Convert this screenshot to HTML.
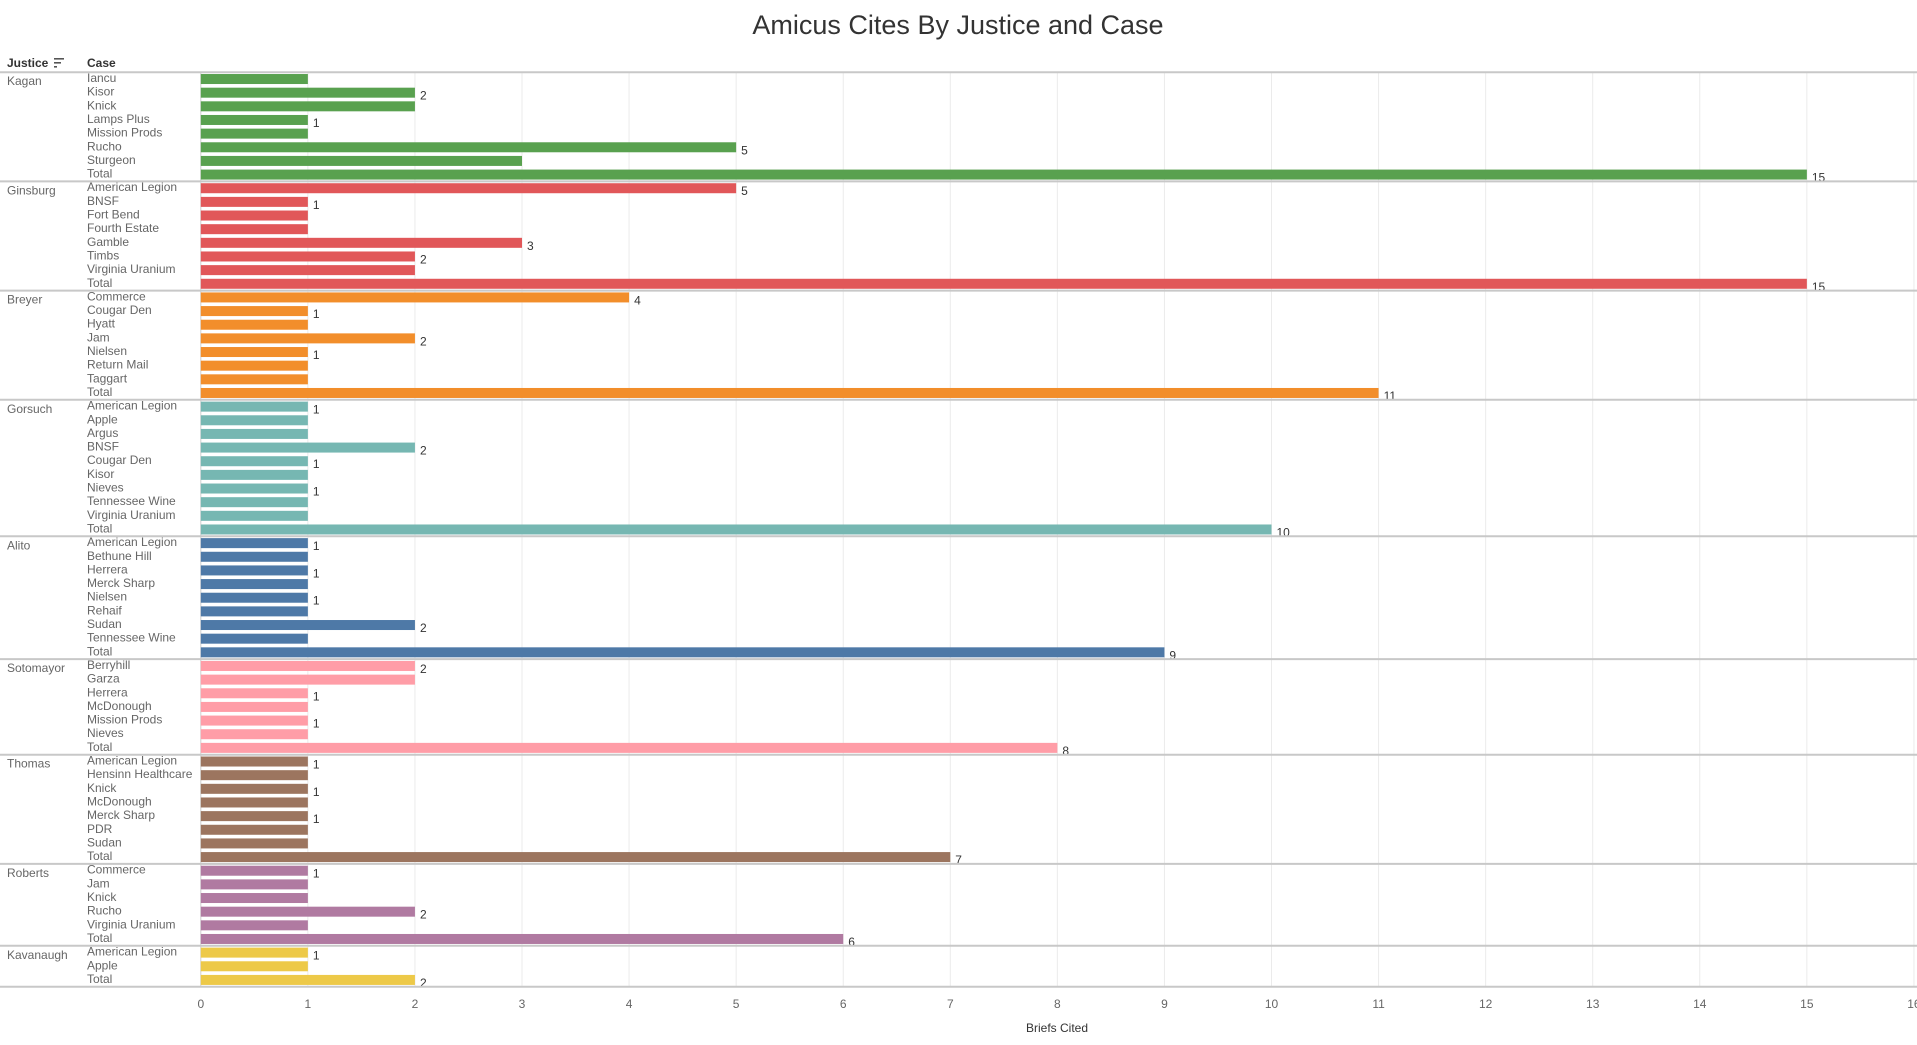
<!DOCTYPE html>
<html><head><meta charset="utf-8"><style>
html,body{margin:0;padding:0;background:#fff;width:1917px;height:1045px;overflow:hidden}
svg{font-family:"Liberation Sans",sans-serif}
</style></head><body>
<svg id="chart" width="1917" height="1045">
<text x="958" y="34" text-anchor="middle" font-size="27" fill="#333">Amicus Cites By Justice and Case</text>
<text x="7" y="67" font-size="12" font-weight="bold" fill="#333">Justice</text>
<g><rect x="54" y="58" width="10" height="1.6" fill="#555"/><rect x="54" y="62" width="7" height="1.6" fill="#555"/><rect x="54" y="66" width="3" height="1.6" fill="#555"/></g>
<text x="87" y="67" font-size="12" font-weight="bold" fill="#333">Case</text>
</svg>
<script>
const justices=["Kagan","Ginsburg","Breyer","Gorsuch","Alito","Sotomayor","Thomas","Roberts","Kavanaugh"];
const colors=["#59a14f","#e15759","#f28e2b","#76b7b2","#4e79a7","#ff9da7","#9c755f","#b07aa1","#edc948"];
const cases=[
["Iancu","Kisor","Knick","Lamps Plus","Mission Prods","Rucho","Sturgeon","Total"],
["American Legion","BNSF","Fort Bend","Fourth Estate","Gamble","Timbs","Virginia Uranium","Total"],
["Commerce","Cougar Den","Hyatt","Jam","Nielsen","Return Mail","Taggart","Total"],
["American Legion","Apple","Argus","BNSF","Cougar Den","Kisor","Nieves","Tennessee Wine","Virginia Uranium","Total"],
["American Legion","Bethune Hill","Herrera","Merck Sharp","Nielsen","Rehaif","Sudan","Tennessee Wine","Total"],
["Berryhill","Garza","Herrera","McDonough","Mission Prods","Nieves","Total"],
["American Legion","Hensinn Healthcare","Knick","McDonough","Merck Sharp","PDR","Sudan","Total"],
["Commerce","Jam","Knick","Rucho","Virginia Uranium","Total"],
["American Legion","Apple","Total"]];
const values=[
[1,2,2,1,1,5,3,15],
[5,1,1,1,3,2,2,15],
[4,1,1,2,1,1,1,11],
[1,1,1,2,1,1,1,1,1,10],
[1,1,1,1,1,1,2,1,9],
[2,2,1,1,1,1,8],
[1,1,1,1,1,1,1,7],
[1,1,1,2,1,6],
[1,1,2]];
const showLabel=[
[0,1,0,1,0,1,0,1],
[1,1,0,0,1,1,0,1],
[1,1,0,1,1,0,0,1],
[1,0,0,1,1,0,1,0,0,1],
[1,0,1,0,1,0,1,0,1],
[1,0,1,0,1,0,1],
[1,0,1,0,1,0,0,1],
[1,0,0,1,0,1],
[1,0,1]];
const ticks=[0,1,2,3,4,5,6,7,8,9,10,11,12,13,14,15,16];

const svg=document.getElementById('chart');
const NS="http://www.w3.org/2000/svg";
const x0=200.8, unit=107.07, yTop=72.2, rowH=13.65, barH=10;
const xs=v=>x0+v*unit;
function mk(tag,attrs,parent){const e=document.createElementNS(NS,tag);for(const k in attrs)e.setAttribute(k,attrs[k]);(parent||svg).appendChild(e);return e;}
const totalRows=values.reduce((a,g)=>a+g.length,0);
const yBottom=yTop+totalRows*rowH;
ticks.forEach(t=>{
 const g=mk('line',{x1:xs(t),x2:xs(t),y1:yTop,y2:yBottom,stroke:'#ebebeb','stroke-width':1});
 
 
 const tl=mk('text',{x:xs(t),y:1008,'font-size':12,fill:'#666','text-anchor':'middle'});
 tl.textContent=t;
 
 
});
mk('line',{x1:x0,x2:x0,y1:yTop,y2:yBottom,stroke:'#d4d4d4','stroke-width':1});
let r=0;
mk('line',{x1:0,x2:1917,y1:yTop,y2:yTop,stroke:'#c8c8c8','stroke-width':2});
justices.forEach((j,gi)=>{
 const gy=yTop+r*rowH;
 const jt=mk('text',{x:7,y:gy+13,'font-size':12,fill:'#666'});
 jt.textContent=j;
 
 
 values[gi].forEach((v,i)=>{
  const cy=yTop+(r+0.5)*rowH;
  const ct=mk('text',{x:87,y:cy+3,'font-size':12,fill:'#666'});
  ct.textContent=cases[gi][i];
  
  
  const b=mk('rect',{x:x0,y:cy-barH/2,width:xs(v)-x0,height:barH,fill:colors[gi]});
  
  
  if(showLabel[gi][i]){
   const lt=mk('text',{x:xs(v)+5,y:cy+7,'font-size':12,fill:'#333'});
   lt.textContent=v;
   
   
  }
  r++;
 });
 const sy=yTop+r*rowH;
 const s=mk('line',{x1:0,x2:1917,y1:sy,y2:sy,stroke:'#c8c8c8','stroke-width':2});
 
 
});
const at=mk('text',{x:1057,y:1032,'font-size':12,fill:'#333','text-anchor':'middle'});
at.textContent='Briefs Cited';


</script>
</body></html>
